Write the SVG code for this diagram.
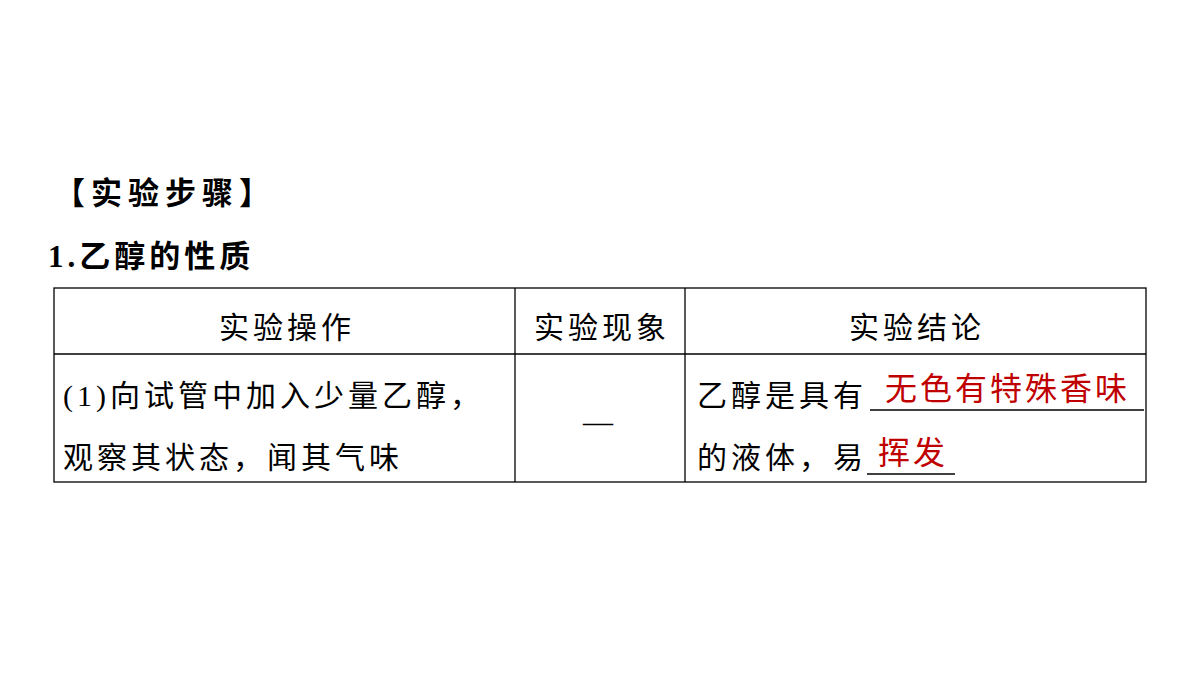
<svg xmlns="http://www.w3.org/2000/svg" width="1200" height="675" viewBox="0 0 1200 675">
<style>
text{font-family:"Liberation Serif","Noto Sans CJK SC",serif;font-size:30px;fill:#000;letter-spacing:4px}
.b{font-weight:bold;font-size:31px;letter-spacing:6px}
.r{fill:#c00000;font-size:32px;letter-spacing:3px}
.c{text-anchor:middle}
.l{stroke:#000;stroke-width:1.3;fill:none}
</style>
<rect width="1200" height="675" fill="#fff"/>
<text class="b" x="54" y="204">【实验步骤】</text>
<text class="b" x="48" y="267" style="letter-spacing:4px">1.乙醇的性质</text>
<g id="table">
<rect class="l" x="54" y="288" width="1092" height="194"/>
<line class="l" x1="54" y1="354" x2="1146" y2="354"/>
<line class="l" x1="515" y1="288" x2="515" y2="482"/>
<line class="l" x1="685" y1="288" x2="685" y2="482"/>
</g>
<text class="c" x="287" y="338">实验操作</text>
<text class="c" x="602" y="338">实验现象</text>
<text class="c" x="917" y="338">实验结论</text>
<text x="63" y="406">(1)向试管中加入少量乙醇，</text>
<text x="63" y="468">观察其状态，闻其气味</text>
<text class="c" x="600" y="432">—</text>
<text x="697" y="406">乙醇是具有</text>
<line class="l" x1="870" y1="410" x2="1144" y2="410"/>
<text class="r" x="885" y="400">无色有特殊香味</text>
<text x="697" y="468">的液体，易</text>
<line class="l" x1="867" y1="474" x2="955" y2="474"/>
<text class="r" x="878" y="464">挥发</text>
</svg>
